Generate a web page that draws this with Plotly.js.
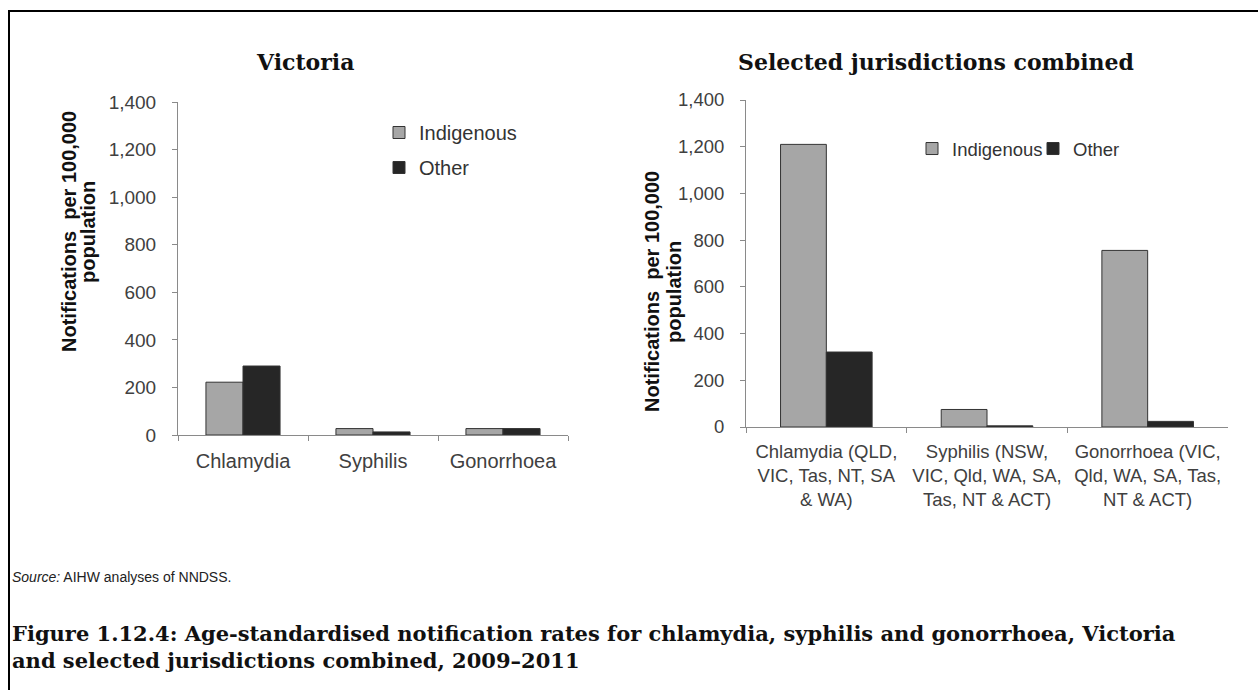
<!DOCTYPE html>
<html>
<head>
<meta charset="utf-8">
<script src="https://cdn.plot.ly/plotly-3.0.1.min.js"></script>
<style>
html,body{margin:0;padding:0;background:#fff;}
#chart{width:1258px;height:690px;}
</style>
</head>
<body>
<div id="chart"></div>
<script>
// ---- data ----
const vicCategories = ['Chlamydia', 'Syphilis', 'Gonorrhoea'];
const vicIndigenous = [222, 27, 27];
const vicOther = [290, 13, 27];

const selCategories = [
  'Chlamydia (QLD,<br>VIC, Tas, NT, SA<br>& WA)',
  'Syphilis (NSW,<br>VIC, Qld, WA, SA,<br>Tas, NT & ACT)',
  'Gonorrhoea (VIC,<br>Qld, WA, SA, Tas,<br>NT & ACT)'
];
const selIndigenous = [1210, 75, 756];
const selOther = [321, 5, 24];

const seriesNames = ['Indigenous', 'Other'];
const leftTitle = 'Victoria';
const rightTitle = 'Selected jurisdictions combined';
const yTitleLine1 = 'Notifications  per 100,000';
const yTitleLine2 = 'population';
const sourceText = '<i>Source:</i> AIHW analyses of NNDSS.';
const captionText = '<b>Figure 1.12.4: Age-standardised notification rates for chlamydia, syphilis and gonorrhoea, Victoria<br>and selected jurisdictions combined, 2009–2011</b>';

// ---- styles ----
const W = 1258, H = 690;
const px = x => x / W;
const py = y => 1 - y / H;
const SANS = 'Liberation Sans, Arial, sans-serif';
const SERIF = 'DejaVu Serif, serif';
const indColor = '#a6a6a6';
const othColor = '#262626';
const edge = {color: '#333333', width: 1};
const axisGray = '#8a8a8a';
const tickText = '#404040';

const traces = [
  {type: 'bar', x: vicCategories, y: vicIndigenous, name: seriesNames[0],
   marker: {color: indColor, line: edge}, xaxis: 'x', yaxis: 'y', legend: 'legend', legendgroup: 'a', hoverinfo: 'y'},
  {type: 'bar', x: vicCategories, y: vicOther, name: seriesNames[1],
   marker: {color: othColor, line: edge}, xaxis: 'x', yaxis: 'y', legend: 'legend', legendgroup: 'b', hoverinfo: 'y'},
  {type: 'bar', x: selCategories, y: selIndigenous, name: seriesNames[0],
   marker: {color: indColor, line: edge}, xaxis: 'x2', yaxis: 'y2', legend: 'legend2', hoverinfo: 'y'},
  {type: 'bar', x: selCategories, y: selOther, name: seriesNames[1],
   marker: {color: othColor, line: edge}, xaxis: 'x2', yaxis: 'y2', legend: 'legend2', hoverinfo: 'y'}
];

function yAxis(domain, fs, anchor) {
  return {
    domain: domain, anchor: anchor, range: [0, 1400], dtick: 200, tickformat: ',',
    showline: true, linecolor: axisGray, linewidth: 1,
    ticks: 'outside', ticklen: 5, tickcolor: axisGray, tickwidth: 1,
    showgrid: false, zeroline: false, ticklabelstandoff: 12,
    tickfont: {family: SANS, size: fs, color: tickText}, fixedrange: true
  };
}
function xAxis(domain, fs, anchor) {
  return {
    domain: domain, anchor: anchor, type: 'category',
    showline: true, linecolor: axisGray, linewidth: 1,
    ticks: 'outside', ticklen: 5, tickcolor: axisGray, tickwidth: 1, tickson: 'boundaries',
    showgrid: false, zeroline: false, ticklabelstandoff: 8,
    tickfont: {family: SANS, size: fs, color: tickText}, fixedrange: true
  };
}

function ann(text, x, y, font, extra) {
  return Object.assign({text: text, x: px(x), y: py(y), xref: 'paper', yref: 'paper',
    xanchor: 'center', yanchor: 'middle', showarrow: false, font: font}, extra || {});
}
const yTitleFont = {family: SANS, size: 20, color: '#111'};

const layout = {
  width: W, height: H,
  margin: {l: 0, r: 0, t: 0, b: 0},
  paper_bgcolor: '#ffffff', plot_bgcolor: '#ffffff',
  barmode: 'group', bargap: 0.43, bargroupgap: 0,
  xaxis: xAxis([px(178), px(568)], 20, 'y'),
  yaxis: yAxis([py(435), py(102)], 19, 'x'),
  xaxis2: xAxis([px(746), px(1228)], 18.5, 'y2'),
  yaxis2: yAxis([py(427), py(100)], 18.5, 'x2'),
  legend: {
    x: px(379), y: py(113), xanchor: 'left', yanchor: 'top',
    orientation: 'v', tracegroupgap: 6, itemwidth: 30,
    font: {family: SANS, size: 20, color: '#333333'}, bgcolor: 'rgba(0,0,0,0)'
  },
  legend2: {
    x: px(912), y: py(149), xanchor: 'left', yanchor: 'middle',
    orientation: 'h', itemwidth: 30, entrywidth: 76,
    font: {family: SANS, size: 18.5, color: '#333333'}, bgcolor: 'rgba(0,0,0,0)'
  },
  showlegend: true,
  annotations: [
    ann('<b>' + leftTitle + '</b>', 305, 62, {family: SERIF, size: 22, color: '#111'}),
    ann('<b>' + rightTitle + '</b>', 936, 62, {family: SERIF, size: 22, color: '#111'}),
    ann('<b>' + yTitleLine1 + '</b>', 69, 232, yTitleFont, {textangle: -90}),
    ann('<b>' + yTitleLine2 + '</b>', 88, 232, yTitleFont, {textangle: -90}),
    ann('<b>' + yTitleLine1 + '</b>', 652, 292, yTitleFont, {textangle: -90}),
    ann('<b>' + yTitleLine2 + '</b>', 674, 292, yTitleFont, {textangle: -90}),
    ann(sourceText, 10, 577, {family: SANS, size: 14, color: '#222'}, {xanchor: 'left'}),
    ann(captionText, 10, 647, {family: SERIF, size: 21, color: '#111'}, {xanchor: 'left', align: 'left'})
  ],
  shapes: [
    {type: 'line', xref: 'paper', yref: 'paper', x0: px(8), x1: 1, y0: py(11), y1: py(11),
     line: {color: '#000', width: 2}},
    {type: 'line', xref: 'paper', yref: 'paper', x0: px(9), x1: px(9), y0: py(11), y1: 0,
     line: {color: '#000', width: 2}}
  ]
};

Plotly.newPlot('chart', traces, layout, {displayModeBar: false, staticPlot: true});
</script>
</body>
</html>
